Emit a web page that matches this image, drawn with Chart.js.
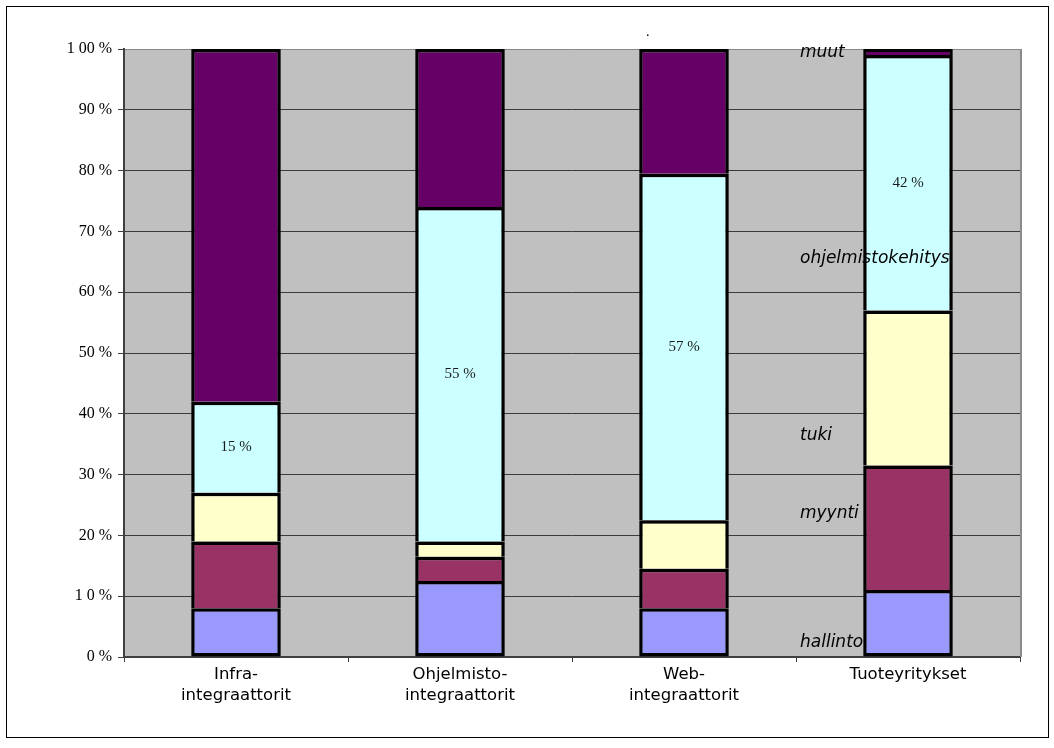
<!DOCTYPE html>
<html>
<head>
<meta charset="utf-8">
<script src="https://cdn.jsdelivr.net/npm/chart.js@4/dist/chart.umd.min.js"></script>
<style>
  html, body { margin: 0; padding: 0; background: #ffffff; }
  #wrap { width: 1054px; height: 748px; position: relative; }
</style>
</head>
<body>
<div id="wrap"><canvas id="c" width="1054" height="748"></canvas></div>
<script>
// Yritystyypit (luokka-akselin nimet)
const categories = [
  ['Infra-', 'integraattorit'],
  ['Ohjelmisto-', 'integraattorit'],
  ['Web-', 'integraattorit'],
  ['Tuoteyritykset']
];

// Henkilöstön jakauma tehtävittäin, % (alhaalta ylös)
const hallinto          = [8, 12.5, 8, 11];
const myynti            = [11, 4, 6.5, 20.5];
const tuki              = [8, 2.5, 8, 25.5];
const ohjelmistokehitys = [15, 55, 57, 42];
const muut              = [58, 26, 20.5, 1];

const seriesNames = ['hallinto', 'myynti', 'tuki', 'ohjelmistokehitys', 'muut'];

// Pystyakselin tekstit 0 %…100 %
const yTickLabels = ['0 %', '1 0 %', '20 %', '30 %', '40 %', '50 %', '60 %', '70 %', '80 %', '90 %', '1 00 %'];

const colors = ['#9999ff', '#993366', '#ffffcc', '#ccffff', '#660066'];
const seriesData = [hallinto, myynti, tuki, ohjelmistokehitys, muut];

const datasets = seriesData.map((d, i) => ({
  label: seriesNames[i],
  data: d,
  backgroundColor: colors[i],
  borderColor: '#000000',
  borderWidth: 3.5,
  borderSkipped: i === 0 ? false : 'start',
  barPercentage: 0.4,
  categoryPercentage: 1.0
}));

// Harmaa piirtoalue ja kehykset
const plotFrame = {
  id: 'plotFrame',
  beforeDraw(chart) {
    const { ctx, chartArea: a } = chart;
    ctx.save();
    ctx.fillStyle = '#ffffff';
    ctx.fillRect(0, 0, chart.width, chart.height);
    ctx.fillStyle = '#c0c0c0';
    ctx.fillRect(a.left, a.top, a.right - a.left, a.bottom - a.top);
    ctx.strokeStyle = '#000000';
    ctx.lineWidth = 1;
    ctx.strokeRect(6.5, 6.5, 1042, 731);
    ctx.restore();
  },
  beforeDatasetsDraw(chart) {
    const { ctx, chartArea: a } = chart;
    ctx.save();
    ctx.strokeStyle = '#8a8a8a';
    ctx.lineWidth = 2;
    ctx.beginPath();
    ctx.moveTo(a.right + 1, a.top);
    ctx.lineTo(a.right + 1, a.bottom);
    ctx.stroke();
    ctx.restore();
  }
};

// Ohjelmistokehityksen osuudet pylväiden keskelle
const segmentLabels = {
  id: 'segmentLabels',
  afterDatasetsDraw(chart) {
    const { ctx } = chart;
    const meta = chart.getDatasetMeta(3);
    ctx.save();
    ctx.font = '15px "Liberation Serif", "Times New Roman", serif';
    ctx.fillStyle = '#1a1a1a';
    ctx.textAlign = 'center';
    ctx.textBaseline = 'middle';
    meta.data.forEach((bar, i) => {
      const v = ohjelmistokehitys[i];
      const yc = (bar.y + bar.base) / 2;
      ctx.fillText(v + ' %', bar.x, yc);
    });
    ctx.restore();
  }
};

// Tehtävien nimet oikeaan reunaan
const seriesTags = {
  id: 'seriesTags',
  afterDatasetsDraw(chart) {
    const { ctx, chartArea: a } = chart;
    const y = chart.scales.y;
    const spots = [
      ['muut', 99.6],
      ['ohjelmistokehitys', 65.7],
      ['tuki', 36.6],
      ['myynti', 23.8],
      ['hallinto', 2.6]
    ];
    ctx.save();
    ctx.font = 'italic 17px "DejaVu Sans", Verdana, sans-serif';
    ctx.fillStyle = '#000000';
    ctx.textAlign = 'left';
    ctx.textBaseline = 'middle';
    spots.forEach(([t, v]) => ctx.fillText(t, a.right - 220, y.getPixelForValue(v) + 1));
    ctx.font = '14px "Liberation Serif", serif';
    ctx.fillText('.', 646, 32);
    ctx.restore();
  }
};

new Chart(document.getElementById('c'), {
  type: 'bar',
  data: { labels: categories, datasets },
  options: {
    responsive: false,
    animation: false,
    devicePixelRatio: 1,
    layout: { padding: { top: 49, right: 34, bottom: 0, left: 0 } },
    plugins: {
      legend: { display: false },
      tooltip: { enabled: false },
      title: { display: false }
    },
    scales: {
      x: {
        stacked: true,
        afterFit(s) { s.height = 91; },
        grid: {
          offset: true,
          drawOnChartArea: false,
          drawTicks: true,
          tickLength: 5,
          tickColor: '#404040'
        },
        border: { display: true, color: '#404040', width: 2 },
        ticks: {
          color: '#000000',
          padding: 2,
          maxRotation: 0,
          font: { family: '"DejaVu Sans", Verdana, sans-serif', size: 16.5, lineHeight: 1.3 }
        }
      },
      y: {
        stacked: true,
        min: 0,
        max: 100,
        afterFit(s) { s.width = 124; },
        grid: {
          color: (c) => (c.tick && c.tick.value === 100 ? '#8a8a8a' : '#3a3a3a'),
          lineWidth: 1,
          drawTicks: true,
          tickLength: 6,
          tickColor: '#404040'
        },
        border: { display: true, color: '#404040', width: 2 },
        ticks: {
          stepSize: 10,
          padding: 6,
          color: '#000000',
          font: { family: '"Liberation Serif", "Times New Roman", serif', size: 16 },
          callback: (v) => yTickLabels[Math.round(v / 10)]
        }
      }
    }
  },
  plugins: [plotFrame, segmentLabels, seriesTags]
});
</script>
</body>
</html>
